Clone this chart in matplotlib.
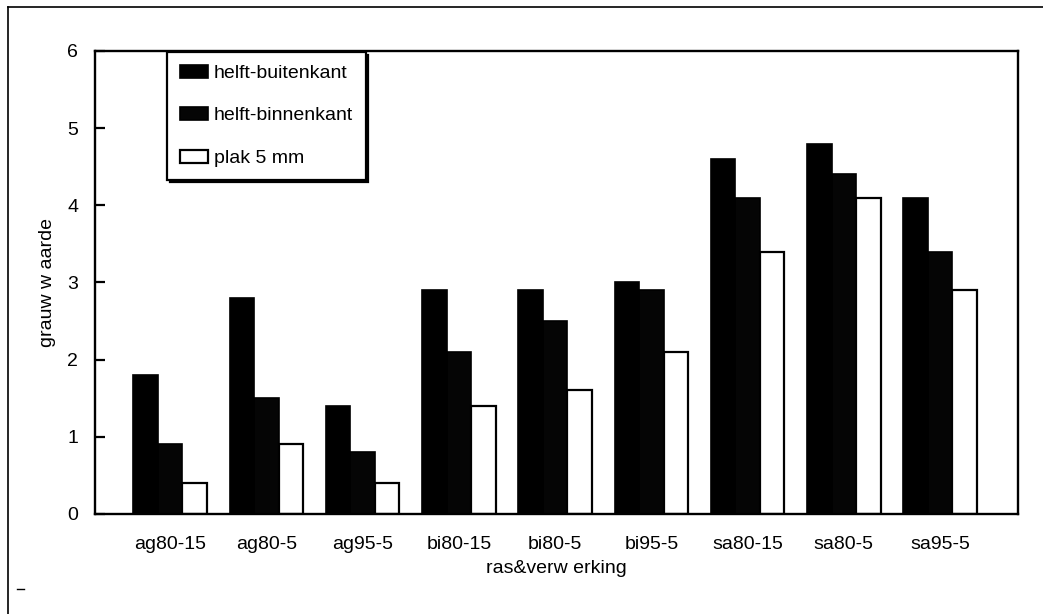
import matplotlib
matplotlib.use("Agg")
import matplotlib.pyplot as plt
from matplotlib.lines import Line2D
import numpy as np

plt.rcParams["font.family"] = ["Liberation Sans", "DejaVu Sans"]

categories = ["ag80-15", "ag80-5", "ag95-5", "bi80-15", "bi80-5",
              "bi95-5", "sa80-15", "sa80-5", "sa95-5"]
series_names = ["helft-buitenkant", "helft-binnenkant", "plak 5 mm"]
buitenkant = [1.8, 2.8, 1.4, 2.9, 2.9, 3.0, 4.6, 4.8, 4.1]
binnenkant = [0.9, 1.5, 0.8, 2.1, 2.5, 2.9, 4.1, 4.4, 3.4]
plak = [0.4, 0.9, 0.4, 1.4, 1.6, 2.1, 3.4, 4.1, 2.9]

fig = plt.figure(figsize=(10.43, 6.14), dpi=100)
ax = fig.add_axes([0.0911, 0.163, 0.885, 0.754])

x = np.arange(len(categories))
w = 0.255
ax.bar(x - w, buitenkant, w, color="black", edgecolor="black", linewidth=1.2,
       label=series_names[0])
ax.bar(x, binnenkant, w, color="#050505", edgecolor="black", linewidth=1.2,
       label=series_names[1])
ax.bar(x + w, plak, w, color="white", edgecolor="black", linewidth=1.6,
       label=series_names[2])

ax.set_xlim(-0.78, 8.81)
ax.set_ylim(0, 6)
ax.set_yticks(range(0, 7))
ax.set_xticks(x)
ax.set_xticklabels(categories)

for s in ax.spines.values():
    s.set_linewidth(1.7)

ax.tick_params(axis="y", direction="in", length=7, width=1.6, pad=12,
               labelsize=14)
ax.tick_params(axis="x", length=0, pad=16, labelsize=14)

ax.set_ylabel("grauw w aarde", fontsize=14, labelpad=8)
ax.set_xlabel("ras&verw erking", fontsize=14, labelpad=5)

leg = ax.legend(loc="upper left", bbox_to_anchor=(0.078, 0.998),
                borderaxespad=0, fancybox=False,
                shadow={"color": "black", "alpha": 1},
                fontsize=14, labelspacing=1.3, handlelength=1.45,
                handleheight=0.65, handletextpad=0.3, borderpad=0.65)
leg.get_frame().set_edgecolor("black")
leg.get_frame().set_linewidth(1.6)
for h in leg.legend_handles:
    h.set_edgecolor("black")

# outer frame around the whole graphic
fig.add_artist(Line2D([8 / 1043, 1.0], [1 - 7 / 614, 1 - 7 / 614],
                      color="black", linewidth=1.2))
fig.add_artist(Line2D([8 / 1043, 8 / 1043], [0.0, 1 - 7 / 614],
                      color="black", linewidth=1.2))
fig.add_artist(Line2D([17 / 1043, 24 / 1043], [1 - 589 / 614, 1 - 589 / 614],
                      color="black", linewidth=1.0))

fig.savefig("out.png", dpi=100)
